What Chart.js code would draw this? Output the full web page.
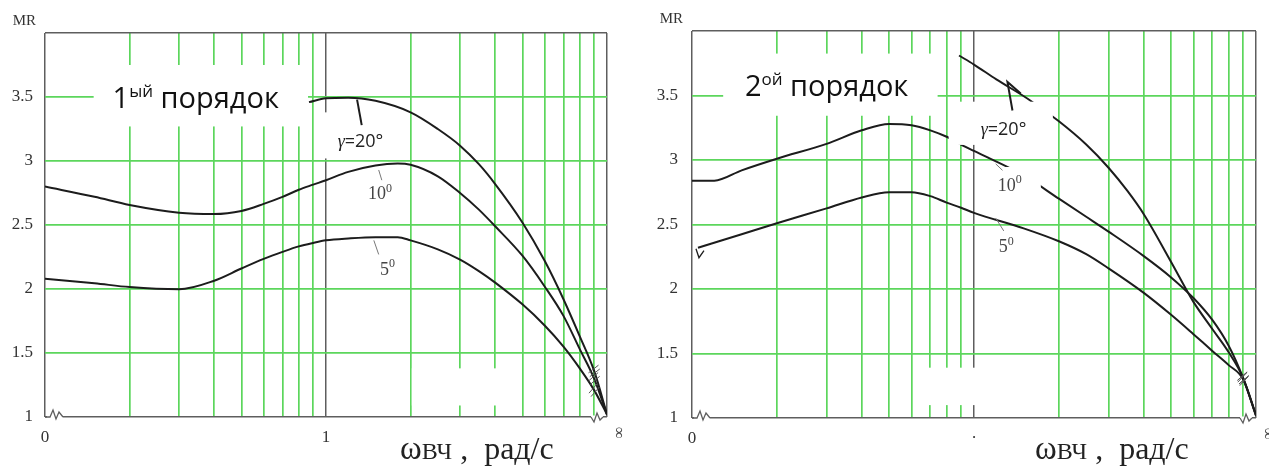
<!DOCTYPE html>
<html>
<head>
<meta charset="utf-8">
<script src="https://cdn.jsdelivr.net/npm/chart.js@4.4.1/dist/chart.umd.min.js"></script>
<style>
  html, body { margin: 0; padding: 0; background: #fff; }
  #wrap { position: relative; width: 1269px; height: 466px; }
  .panel { position: absolute; top: 0; height: 466px; }
</style>
</head>
<body>
<div id="wrap">
  <div class="panel" style="left:0;width:635px"><canvas id="left"></canvas></div>
  <div class="panel" style="left:635px;width:634px"><canvas id="right"></canvas></div>
</div>
<script>
// grid / tick values (omega in rad/s, drawn as log decades 0.1..1..10 = "0".."1".."inf")
var xGrid = [0.1, 0.2, 0.3, 0.4, 0.5, 0.6, 0.7, 0.8, 0.9, 1, 2, 3, 4, 5, 6, 7, 8, 9, 10]
var xLabelsL = { 0.1: '0', 1: '1' }
var xLabelsR = { 0.1: '0', 1: '·' }
var yGrid = [1, 1.5, 2, 2.5, 3, 3.5, 4]
var yLabels = { 1: '1', 1.5: '1.5', 2: '2', 2.5: '2.5', 3: '3', 3.5: '3.5' }

// 1st order
var w1 = [0.1, 0.15, 0.2, 0.3, 0.4, 0.5, 0.6, 0.7, 0.8, 0.9, 1, 1.2, 1.5, 1.8, 2, 2.5, 3, 3.5, 4, 5, 6, 7, 8, 9, 10]
var mr1_5 = [2.08, 2.045, 2.015, 1.998, 2.065, 2.16, 2.235, 2.29, 2.333, 2.36, 2.38, 2.395, 2.405, 2.405, 2.38, 2.31, 2.23, 2.14, 2.05, 1.88, 1.715, 1.55, 1.38, 1.21, 1.02]
var mr1_10 = [2.80, 2.72, 2.656, 2.596, 2.586, 2.61, 2.665, 2.72, 2.775, 2.815, 2.85, 2.915, 2.965, 2.98, 2.97, 2.88, 2.75, 2.62, 2.49, 2.26, 2.02, 1.79, 1.53, 1.30, 1.02]
var w1_20 = [0.87, 1, 1.2, 1.5, 2, 2.5, 3, 3.5, 4, 5, 6, 7, 8, 9, 10]
var mr1_20 = [3.46, 3.49, 3.495, 3.47, 3.38, 3.25, 3.12, 2.975, 2.82, 2.52, 2.22, 1.92, 1.63, 1.36, 1.02]

// 2nd order
var w2_5 = [0.105, 0.15, 0.2, 0.3, 0.4, 0.5, 0.6, 0.7, 0.8, 0.9, 1, 1.5, 2, 2.5, 3, 4, 5, 6, 7, 8, 9, 10]
var mr2_5 = [2.32, 2.425, 2.51, 2.625, 2.71, 2.75, 2.75, 2.72, 2.67, 2.63, 2.59, 2.47, 2.37, 2.27, 2.16, 1.97, 1.80, 1.65, 1.52, 1.41, 1.30, 1.02]
var w2 = [0.1, 0.12, 0.15, 0.2, 0.3, 0.4, 0.5, 0.6, 0.7, 0.8, 0.9, 1, 1.5, 2, 2.5, 3, 4, 5, 6, 7, 8, 9, 10]
var mr2_10 = [2.84, 2.84, 2.92, 3.01, 3.125, 3.23, 3.28, 3.27, 3.23, 3.18, 3.12, 3.07, 2.88, 2.70, 2.56, 2.445, 2.255, 2.09, 1.93, 1.76, 1.56, 1.31, 1.02]
var w2_20 = [0.885, 1, 1.2, 1.55, 2, 2.5, 3, 3.5, 4, 5, 6, 7, 8, 9, 10]
var mr2_20 = [3.81, 3.74, 3.625, 3.475, 3.30, 3.12, 2.94, 2.76, 2.58, 2.21, 1.90, 1.69, 1.51, 1.31, 1.02]

var green = '#5cd65c'
var frame = '#5e5e5e'
var ink = '#1c1c1c'
var serif = "'Liberation Serif', 'DejaVu Serif', serif"
var sans = "'Open Sans', 'Noto Sans', sans-serif"

function sup(base, s, size) {
  return [{ t: base, font: size + 'px ' + serif }, { t: s, font: Math.round(size * 0.65) + 'px ' + serif, up: size * 0.42 }]
}
function gammaText(size) {
  return [{ t: 'γ', font: 'italic ' + size + 'px ' + serif }, { t: '=20°', font: size + 'px ' + sans }]
}
function order(n, suffix) {
  return [{ t: n, font: '29px ' + sans }, { t: suffix, font: '17px ' + sans, up: 11 }, { t: ' порядок', font: '29px ' + sans }]
}

var overlay = {
  id: 'overlay',
  afterDatasetsDraw: function (chart, args, o) {
    var ctx = chart.ctx, xs = chart.scales.x, ys = chart.scales.y, a = chart.chartArea
    var px = function (v) { return xs.getPixelForValue(v) }
    var py = function (v) { return ys.getPixelForValue(v) }
    ctx.save()

    // white patches of the original figure (behind captions)
    ctx.fillStyle = '#fff'
    o.boxes.forEach(function (b) {
      ctx.fillRect(px(b[0]), py(b[3]), px(b[1]) - px(b[0]), py(b[2]) - py(b[3]))
    })

    // break marks on curves near infinity
    ctx.strokeStyle = '#555'
    ctx.lineWidth = 1
    chart.data.datasets.forEach(function (ds, i) {
      var pts = chart.getDatasetMeta(i).data
      var k = ds.data.findIndex(function (d) { return d.x === 9 })
      if (k < 1) return
      var p = pts[k], q = pts[k + 1], r = pts[k - 1]
      var dx = q.x - r.x, dy = q.y - r.y, len = Math.hypot(dx, dy)
      dx /= len; dy /= len
      ;[-2, 2].forEach(function (off) {
        var cx = p.x + dx * off, cy = p.y + dy * off
        ctx.beginPath()
        ctx.moveTo(cx - dy * 6 + dx * 2, cy + dx * 6 + dy * 2)
        ctx.lineTo(cx + dy * 6 - dx * 2, cy - dx * 6 - dy * 2)
        ctx.stroke()
      })
    })

    // pointers from captions to curves
    o.pointers.forEach(function (p) {
      ctx.strokeStyle = p.color
      ctx.lineWidth = p.width
      ctx.beginPath()
      ctx.moveTo(px(p.pts[0][0]), py(p.pts[0][1]))
      for (var j = 1; j < p.pts.length; j++) ctx.lineTo(px(p.pts[j][0]), py(p.pts[j][1]))
      ctx.stroke()
    })

    // captions
    ctx.textBaseline = 'alphabetic'
    ctx.textAlign = 'left'
    o.texts.forEach(function (t) {
      var x = px(t.x), y = py(t.y)
      ctx.fillStyle = t.color || '#222'
      t.parts.forEach(function (p) {
        ctx.font = p.font
        ctx.fillText(p.t, x, y - (p.up || 0))
        x += ctx.measureText(p.t).width
      })
    })

    // axis breaks (zigzags) on the omega axis
    var yb = a.bottom
    ctx.fillStyle = '#fff'
    ctx.fillRect(a.left + 2, yb - 1.5, 16, 3)
    ctx.fillRect(a.right - 16, yb - 1.5, 12, 3)
    ctx.strokeStyle = frame
    ctx.lineWidth = 1.3
    ctx.beginPath()
    ctx.moveTo(a.left, yb); ctx.lineTo(a.left + 5, yb); ctx.lineTo(a.left + 8, yb - 7)
    ctx.lineTo(a.left + 11, yb + 2); ctx.lineTo(a.left + 14, yb - 5); ctx.lineTo(a.left + 18, yb)
    ctx.moveTo(a.right - 16, yb); ctx.lineTo(a.right - 13, yb + 5); ctx.lineTo(a.right - 10, yb - 4)
    ctx.lineTo(a.right - 7, yb + 3); ctx.lineTo(a.right - 4, yb)
    ctx.stroke()

    // start mark of a curve
    if (o.startMark !== undefined) {
      var s = chart.getDatasetMeta(o.startMark).data[0]
      ctx.strokeStyle = ink
      ctx.lineWidth = 1.3
      ctx.beginPath()
      ctx.moveTo(s.x - 2, s.y + 1); ctx.lineTo(s.x + 1, s.y + 10); ctx.lineTo(s.x + 6, s.y + 3)
      ctx.stroke()
    }

    // infinity tick label (turned, as in the original)
    ctx.fillStyle = '#444'
    ctx.font = '17px ' + serif
    ctx.save()
    ctx.translate(px(10) + 11, a.bottom + 16)
    ctx.rotate(Math.PI / 2)
    ctx.textAlign = 'center'
    ctx.textBaseline = 'middle'
    ctx.fillText('∞', 0, 0)
    ctx.restore()

    // MR label and axis title
    ctx.fillStyle = '#333'
    ctx.textAlign = 'right'
    ctx.font = '15px ' + serif
    ctx.fillText('MR', a.left - 9, a.top - 8)
    ctx.textAlign = 'left'
    ctx.fillStyle = '#222'
    var tx = o.titleX
    ;[{ t: 'ω', f: '33px ' + serif }, { t: 'ВЧ', f: '24px ' + serif }, { t: ' ,  рад/с', f: '32px ' + serif }].forEach(function (p) {
      ctx.font = p.f
      ctx.fillText(p.t, tx, 459)
      tx += ctx.measureText(p.t).width
    })
    ctx.restore()
  }
}

function series(w, mr, name) {
  return {
    label: name,
    data: w.map(function (x, i) { return { x: x, y: mr[i] } }),
    borderColor: ink,
    borderWidth: 2,
    pointRadius: 0,
    cubicInterpolationMode: 'monotone',
    fill: false
  }
}

function makePanel(id, p) {
  return new Chart(id, {
    type: 'line',
    data: { datasets: p.datasets },
    options: {
      responsive: true,
      maintainAspectRatio: false,
      animation: false,
      layout: { padding: { top: p.top, right: p.right, left: 0, bottom: 0 } },
      plugins: {
        legend: { display: false },
        tooltip: { enabled: false },
        overlay: p.overlay
      },
      scales: {
        x: {
          type: 'logarithmic',
          min: 0.1,
          max: 10,
          afterBuildTicks: function (s) { s.ticks = xGrid.map(function (v) { return { value: v } }) },
          afterFit: function (s) { s.height = p.bottom },
          ticks: {
            autoSkip: false,
            maxRotation: 0,
            padding: 10,
            color: '#333',
            font: { family: serif, size: 17 },
            callback: function (v) { return p.xLabels[v] || '' }
          },
          grid: {
            drawTicks: false,
            color: function (c) { var v = c.tick && c.tick.value; return (v === 0.1 || v === 1 || v === 10) ? frame : green },
            lineWidth: function (c) { var v = c.tick && c.tick.value; return (v === 0.1 || v === 1 || v === 10) ? 1.5 : 1.7 }
          },
          border: { display: false }
        },
        y: {
          min: 1,
          max: 4,
          afterBuildTicks: function (s) { s.ticks = yGrid.map(function (v) { return { value: v } }) },
          afterFit: function (s) { s.width = p.yWidth },
          ticks: {
            padding: p.yPad,
            color: '#333',
            font: { family: serif, size: 17 },
            callback: function (v) { return yLabels[v] || '' }
          },
          grid: {
            drawTicks: false,
            color: function (c) { var v = c.tick && c.tick.value; return (v === 1 || v === 4) ? frame : green },
            lineWidth: function (c) { var v = c.tick && c.tick.value; return (v === 1 || v === 4) ? 1.5 : 1.7 }
          },
          border: { display: false }
        }
      }
    },
    plugins: [overlay]
  })
}

makePanel('left', {
  top: 33, right: 28, bottom: 49, yWidth: 45, yPad: 12,
  xLabels: xLabelsL,
  datasets: [series(w1_20, mr1_20, 'γ=20°'), series(w1, mr1_10, '10°'), series(w1, mr1_5, '5°')],
  overlay: {
    titleX: 400,
    boxes: [
      [0.149, 0.863, 3.27, 3.75],
      [0.952, 1.76, 3.02, 3.38],
      [2.02, 4.52, 1.09, 1.38]
    ],
    pointers: [
      { pts: [[1.29, 3.48], [1.34, 3.28]], color: ink, width: 2 },
      { pts: [[1.54, 2.93], [1.58, 2.85]], color: '#777', width: 1 },
      { pts: [[1.48, 2.38], [1.54, 2.27]], color: '#777', width: 1 }
    ],
    texts: [
      { x: 0.174, y: 3.414, parts: order('1', 'ый'), color: '#111' },
      { x: 1.10, y: 3.11, parts: gammaText(18) },
      { x: 1.41, y: 2.70, parts: sup('10', '0', 18), color: '#444' },
      { x: 1.557, y: 2.11, parts: sup('5', '0', 18), color: '#444' }
    ]
  }
})

makePanel('right', {
  top: 31, right: 13, bottom: 48, yWidth: 57, yPad: 14,
  xLabels: xLabelsR,
  datasets: [series(w2_20, mr2_20, 'γ=20°'), series(w2, mr2_10, '10°'), series(w2_5, mr2_5, '5°')],
  overlay: {
    titleX: 400,
    startMark: 2,
    boxes: [
      [0.129, 0.743, 3.343, 3.825],
      [0.813, 1.904, 3.117, 3.452],
      [1.194, 1.726, 2.70, 2.946],
      [0.674, 1.244, 1.10, 1.39]
    ],
    pointers: [
      { pts: [[1.465, 3.515], [1.314, 3.605], [1.369, 3.384]], color: ink, width: 2 },
      { pts: [[1.194, 2.97], [1.262, 2.92]], color: '#777', width: 1 },
      { pts: [[1.194, 2.55], [1.275, 2.45]], color: '#777', width: 1 }
    ],
    texts: [
      { x: 0.154, y: 3.50, parts: order('2', 'ой'), color: '#111' },
      { x: 1.056, y: 3.195, parts: gammaText(18) },
      { x: 1.214, y: 2.76, parts: sup('10', '0', 18), color: '#444' },
      { x: 1.223, y: 2.285, parts: sup('5', '0', 18), color: '#444' }
    ]
  }
})
</script>
</body>
</html>
